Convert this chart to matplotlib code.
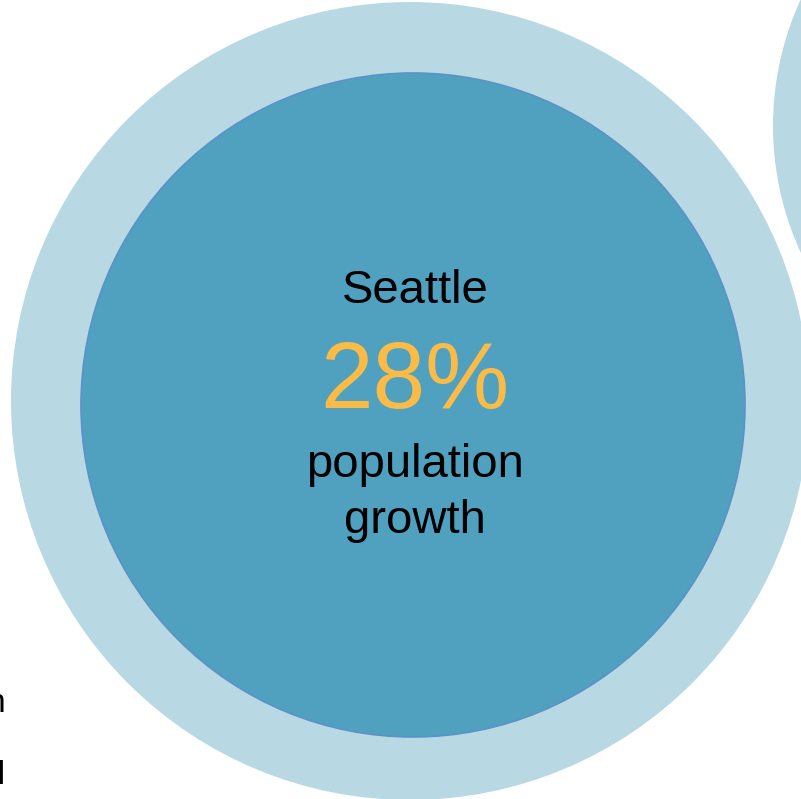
import matplotlib
matplotlib.use("Agg")
import matplotlib.pyplot as plt
from matplotlib.patches import Circle

plt.rcParams.update({"font.family": ["Liberation Sans", "DejaVu Sans"]})

# data
city = "Seattle"
growth_pct = 28
caption = ["population", "growth"]
left_fragments = ["n", "l"]   # ends of labels from the neighbouring bubble, cut off by the frame

LIGHT = "#b8d9e3"
MID = "#50a1bf"
EDGE = "#5b92c8"
GOLD = "#fbbb47"

fig = plt.figure(figsize=(8.01, 7.99), dpi=100)
ax = fig.add_axes([0, 0, 1, 1])
ax.set_xlim(0, 801); ax.set_ylim(799, 0)
ax.set_aspect("equal"); ax.axis("off")

# bubbles (outer ring + inner disc), plus neighbour peeking in top-right
ax.add_patch(Circle((410, 401), 399, color=LIGHT, lw=0, zorder=1))
ax.add_patch(Circle((1076, 126), 303, color=LIGHT, lw=0, zorder=1))
ax.add_patch(Circle((413, 405), 332, facecolor=MID, edgecolor=EDGE, lw=1.2, zorder=2))

ax.text(415, 303, city, ha="center", va="baseline", fontsize=34, color="black", zorder=3)
ax.text(415, 408, f"{growth_pct}%", ha="center", va="baseline", fontsize=68, color=GOLD, zorder=3)
ax.text(415, 477, caption[0], ha="center", va="baseline", fontsize=34, color="black", zorder=3)
ax.text(415, 533, caption[1], ha="center", va="baseline", fontsize=34, color="black", zorder=3)

# clipped label tails on the left edge
ax.text(6, 712, "populatio" + left_fragments[0], ha="right", va="baseline", fontsize=24, zorder=3)
ax.text(5, 784, "tota " + left_fragments[1], ha="right", va="baseline", fontsize=24, zorder=3)

fig.savefig("out.png", dpi=100)
